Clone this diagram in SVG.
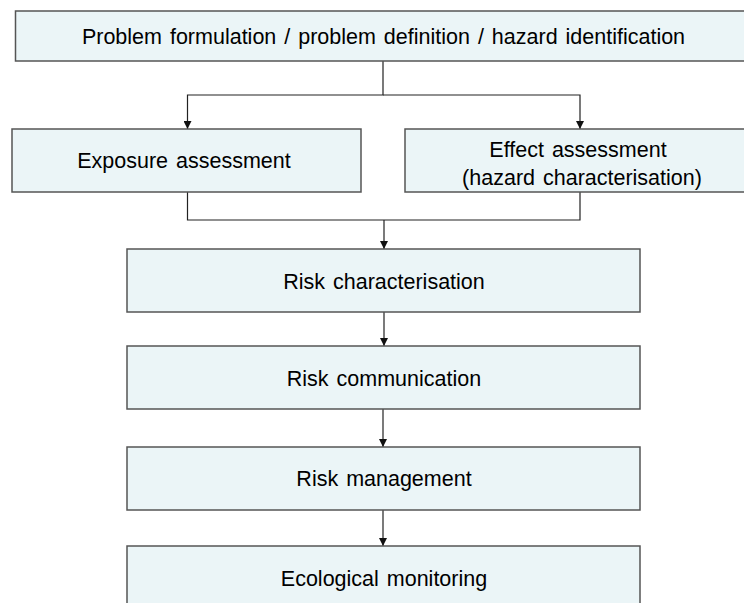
<svg xmlns="http://www.w3.org/2000/svg" width="744" height="603" viewBox="0 0 744 603">
  <style>
    .box { fill: #EBF5F7; stroke: #555555; stroke-width: 1.5; }
    .label { font-family: "Liberation Sans", Arial, sans-serif; font-size: 21.5px; word-spacing: 2px; fill: #000000; text-anchor: middle; }
    .link { fill: none; stroke: #222222; stroke-width: 1.2; }
  </style>
  <defs>
    <marker id="arrow" viewBox="0 0 10 10" refX="10" refY="5" markerWidth="8" markerHeight="8" markerUnits="userSpaceOnUse" orient="auto">
      <path d="M0,0 L10,5 L0,10 z" fill="#111111"/>
    </marker>
  </defs>

  <g id="connectors">
    <path class="link" d="M383,61 V95 H187.5 V129" marker-end="url(#arrow)"/>
    <path class="link" d="M383,95 H580 V129" marker-end="url(#arrow)"/>
    <path class="link" d="M187.5,192 V220 H580 V192"/>
    <path class="link" d="M384,220 V249" marker-end="url(#arrow)"/>
    <path class="link" d="M384,312 V346" marker-end="url(#arrow)"/>
    <path class="link" d="M383,409 V447" marker-end="url(#arrow)"/>
    <path class="link" d="M383,510 V546" marker-end="url(#arrow)"/>
  </g>

  <g id="problem-formulation">
    <rect class="box" x="15.5" y="11" width="740" height="50"/>
    <text class="label" x="383.5" y="44">Problem formulation / problem definition / hazard identification</text>
  </g>

  <g id="exposure-assessment">
    <rect class="box" x="12" y="129" width="349" height="63"/>
    <text class="label" x="184" y="168">Exposure assessment</text>
  </g>

  <g id="effect-assessment">
    <rect class="box" x="405" y="129" width="350" height="63"/>
    <text class="label" x="578" y="157">Effect assessment</text>
    <text class="label" x="582" y="185">(hazard characterisation)</text>
  </g>

  <g id="risk-characterisation">
    <rect class="box" x="127" y="249" width="513" height="63"/>
    <text class="label" x="384" y="289">Risk characterisation</text>
  </g>

  <g id="risk-communication">
    <rect class="box" x="127" y="346" width="513" height="63"/>
    <text class="label" x="384" y="386">Risk communication</text>
  </g>

  <g id="risk-management">
    <rect class="box" x="127" y="447" width="513" height="63"/>
    <text class="label" x="384" y="486">Risk management</text>
  </g>

  <g id="ecological-monitoring">
    <rect class="box" x="127" y="546" width="513" height="63"/>
    <text class="label" x="384" y="586">Ecological monitoring</text>
  </g>
</svg>
